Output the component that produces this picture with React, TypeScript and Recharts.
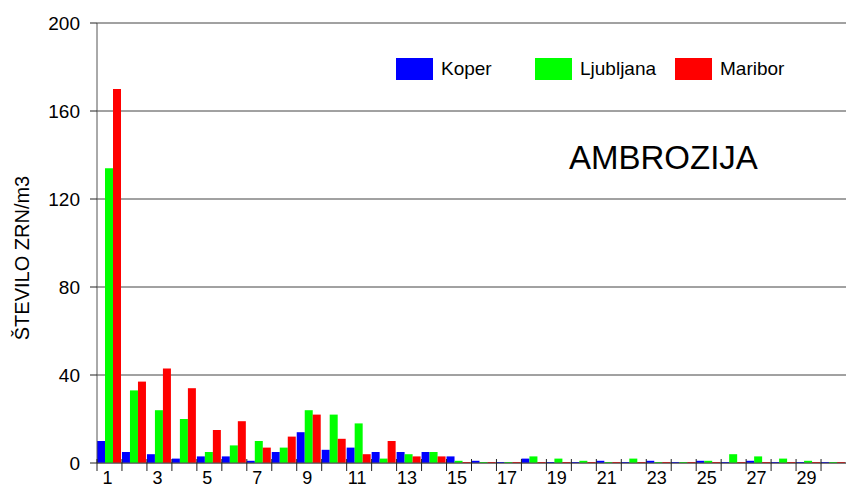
import { BarChart, Bar, XAxis, YAxis, CartesianGrid, Legend } from 'recharts';

const days = [
  '1', '2', '3', '4', '5', '6', '7', '8', '9', '10',
  '11', '12', '13', '14', '15', '16', '17', '18', '19', '20',
  '21', '22', '23', '24', '25', '26', '27', '28', '29', '30',
];
const koper = [10, 5, 4, 2, 3, 3, 1, 5, 14, 6, 7, 5, 5, 5, 3, 1, 0, 2, 0, 0, 1, 0, 1, 0, 1, 0, 1, 0, 0, 0];
const ljubljana = [134, 33, 24, 20, 5, 8, 10, 7, 24, 22, 18, 2, 4, 5, 1, 0, 0, 3, 2, 1, 0, 2, 0, 0, 1, 4, 3, 2, 1, 0];
const maribor = [170, 37, 43, 34, 15, 19, 7, 12, 22, 11, 4, 10, 3, 3, 0, 0, 0, 0, 0, 0, 0, 0, 0, 0, 0, 0, 0, 0, 0, 0];
const yTicks = [0, 40, 80, 120, 160, 200];

const data = days.map((day, i) => ({
  day,
  Koper: koper[i],
  Ljubljana: ljubljana[i],
  Maribor: maribor[i],
}));

const FONT = '"Liberation Sans", Arial, sans-serif';
const AXIS = '#555';

const DayTick = (props: any) => {
  const { x, y, payload, index } = props;
  const half = payload?.offset ?? 12.5;
  const left = x - half;
  return (
    <g>
      <line x1={left} x2={left} y1={y - 4} y2={y + 8} stroke="#222" strokeWidth={1} />
      {index % 2 === 0 && (
        <text x={x - 2} y={y + 21} textAnchor="middle" fontSize={18} fontFamily={FONT} fill="#000">
          {payload.value}
        </text>
      )}
    </g>
  );
};

const legendItems = [
  { name: 'Koper', color: '#0000ff', width: 139 },
  { name: 'Ljubljana', color: '#00ff00', width: 140 },
  { name: 'Maribor', color: '#ff0000', width: 120 },
];

const LegendBox = () => (
  <div style={{ display: 'flex', fontFamily: FONT, fontSize: 19, color: '#000' }}>
    {legendItems.map((it) => (
      <div key={it.name} style={{ display: 'flex', alignItems: 'center', width: it.width }}>
        <span style={{ display: 'inline-block', width: 37, height: 22, background: it.color }} />
        <span style={{ marginLeft: 8 }}>{it.name}</span>
      </div>
    ))}
  </div>
);

export default function App() {
  return (
    <div style={{ position: 'absolute', left: 0, top: 0, width: 846, height: 488, background: '#fff' }}>
      <BarChart
        width={846}
        height={488}
        data={data}
        margin={{ top: 23, right: 0, left: 0, bottom: 0 }}
        barCategoryGap={0}
        barGap={0}
      >
        <CartesianGrid vertical={false} stroke="#444" />
        <XAxis
          dataKey="day"
          height={25}
          interval={0}
          tickSize={0}
          tickMargin={0}
          tickLine={false}
          axisLine={{ stroke: AXIS }}
          tick={<DayTick />}
        />
        <YAxis
          width={97}
          domain={[0, 200]}
          ticks={yTicks}
          tickSize={7}
          tickMargin={10}
          axisLine={{ stroke: AXIS }}
          tickLine={{ stroke: '#222' }}
          tick={{ fontSize: 19, fontFamily: FONT, fill: '#000' }}
          label={{
            content: () => (
              <text
                x={22}
                y={258}
                transform="rotate(-90 22 258)"
                textAnchor="middle"
                dominantBaseline="central"
                fontSize={20}
                fontFamily={FONT}
                fill="#000"
              >
                ŠTEVILO ZRN/m3
              </text>
            ),
          }}
        />
        <Legend
          layout="horizontal"
          verticalAlign="middle"
          align="center"
          content={<LegendBox />}
          wrapperStyle={{ top: 58, left: 396, width: 420 }}
        />
        <Bar dataKey="Koper" fill="#0000ff" minPointSize={1} isAnimationActive={false} />
        <Bar dataKey="Ljubljana" fill="#00ff00" minPointSize={1} isAnimationActive={false} />
        <Bar dataKey="Maribor" fill="#ff0000" minPointSize={1} isAnimationActive={false} />
      </BarChart>
      <div
        style={{
          position: 'absolute',
          left: 569,
          top: 139,
          fontFamily: FONT,
          fontSize: 33,
          lineHeight: '38px',
          color: '#000',
        }}
      >
        AMBROZIJA
      </div>
    </div>
  );
}
